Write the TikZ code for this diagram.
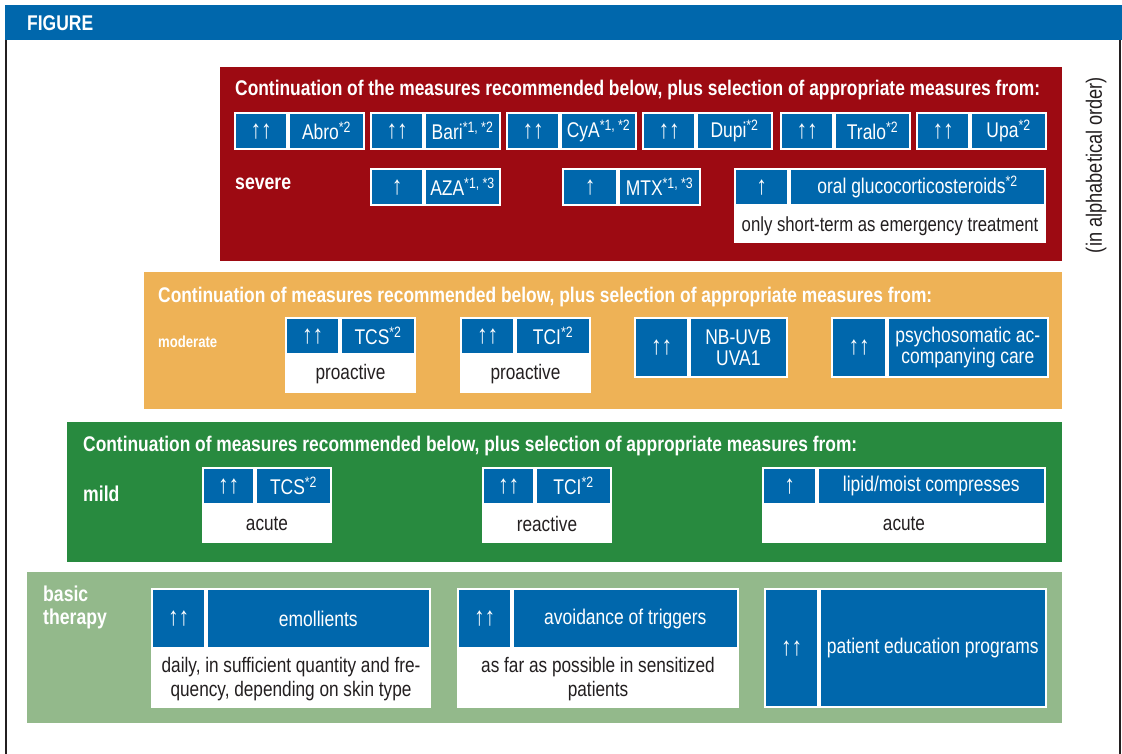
\documentclass[tikz,border=0pt]{standalone}
\usepackage{fontspec}
\setmainfont{Liberation Sans}[FakeStretch=0.82]
\definecolor{figblue}{HTML}{0067AC}
\definecolor{sevred}{HTML}{9D0A12}
\definecolor{modorange}{HTML}{EEB256}
\definecolor{mildgreen}{HTML}{288A3F}
\definecolor{basicgreen}{HTML}{93B98B}
\definecolor{inkgray}{HTML}{231F20}

\newcommand{\starnote}[1]{\raisebox{7pt}{\fontsize{15}{15}\selectfont#1}}
\newcommand{\grade}[1]{{\fontsize{26}{26}\selectfont#1}}
% grade cell + measure cell in a white frame
% #1 name, #2 left, #3 top, #4 right, #5 bottom, #6 grade width, #7 grade, #8 measure
\newcommand{\recpair}[8]{%
  \fill[white] (#2,#3) rectangle (#4,#5);
  \node[mcell, anchor=north west, minimum width={#6pt},
        minimum height={#5pt-#3pt-4pt}] (#1g) at (#2+2,#3+2) {\grade{#7}};
  \node[mcell, anchor=north east, minimum width={#4pt-#2pt-#6pt-8pt},
        minimum height={#5pt-#3pt-4pt}] (#1m) at (#4-2,#3+2) {#8};
}

\begin{document}
\begin{tikzpicture}[x=1pt,y=-1pt,
    mcell/.style={fill=figblue,text=white,inner sep=0pt,align=center,
      font=\fontsize{21.3}{21}\selectfont},
    heading/.style={anchor=west,text=white,inner sep=0pt,
      font=\bfseries\fontsize{21.2}{22}\selectfont},
    levelname/.style={anchor=west,text=white,inner sep=0pt,align=left,
      font=\bfseries\fontsize{21.5}{23}\selectfont},
    notetext/.style={text=inkgray,inner sep=0pt,align=center,
      font=\fontsize{21}{24}\selectfont}]
  \useasboundingbox (0,0) rectangle (1122,754);

  % header and frame
  \fill[figblue] (5,5) rectangle (1122,40);
  \node[anchor=west,text=white,inner sep=0pt,font=\bfseries\fontsize{21.3}{22}\selectfont] (fig) at (27,23) {FIGURE};
  \draw[inkgray,line width=2pt] (6,40) -- (6,754);
  \draw[inkgray,line width=2pt] (1120,40) -- (1120,754);
  \node[rotate=90,text=inkgray,inner sep=0pt,font=\fontsize{22.2}{23}\selectfont] (order) at (1096,165) {(in alphabetical order)};

  % severe
  \fill[sevred] (220,67) rectangle (1062,261);
  \node[heading] (sevhead) at (235,90) {Continuation of the measures recommended below, plus selection of appropriate measures from:};
  \node[levelname] (sevlabel) at (235,184) {severe};
  \recpair{abro}{234}{112}{365}{150}{50}{↑↑}{Abro\starnote{*2}}
  \recpair{bari}{370}{112}{501}{150}{50}{↑↑}{Bari\starnote{*1, *2}}
  \recpair{cya}{506}{112}{637}{150}{50}{↑↑}{CyA\starnote{*1, *2}}
  \recpair{dupi}{642}{112}{773}{150}{50}{↑↑}{Dupi\starnote{*2}}
  \recpair{tralo}{780}{112}{911}{150}{50}{↑↑}{Tralo\starnote{*2}}
  \recpair{upa}{916}{112}{1047}{150}{50}{↑↑}{Upa\starnote{*2}}
  \recpair{aza}{370}{168}{501}{206}{50}{↑}{AZA\starnote{*1, *3}}
  \recpair{mtx}{562}{168}{701}{206}{52}{↑}{MTX\starnote{*1, *3}}
  \fill[white] (734,168) rectangle (1046,243);
  \recpair{ocs}{734}{168}{1046}{206}{51}{↑}{oral glucocorticosteroids\starnote{*2}}
  \node[notetext,font=\fontsize{20.4}{24}\selectfont] (ocsnote) at (890,226) {only short-term as emergency treatment};

  % moderate
  \fill[modorange] (144,272) rectangle (1062,409);
  \node[heading] (modhead) at (158,297) {Continuation of measures recommended below, plus selection of appropriate measures from:};
  \node[levelname,font=\bfseries\fontsize{16}{18}\selectfont] (modlabel) at (158,342) {moderate};
  \fill[white] (285,317) rectangle (416,393);
  \recpair{tcsmod}{285}{317}{416}{355}{51}{↑↑}{TCS\starnote{*2}}
  \node[notetext] (tcsmodnote) at (350.5,374) {proactive};
  \fill[white] (460,317) rectangle (591,393);
  \recpair{tcimod}{460}{317}{591}{355}{51}{↑↑}{TCI\starnote{*2}}
  \node[notetext] (tcimodnote) at (525.5,374) {proactive};
  \recpair{uv}{634}{317}{788}{378}{51}{↑↑}{NB-UVB\\UVA1}
  \recpair{psy}{831}{317}{1049}{378}{52}{↑↑}{psychosomatic ac-\\companying care}

  % mild
  \fill[mildgreen] (67,422) rectangle (1062,562);
  \node[heading] (mildhead) at (83,446) {Continuation of measures recommended below, plus selection of appropriate measures from:};
  \node[levelname] (mildlabel) at (83,494) {mild};
  \fill[white] (202,467) rectangle (332,543);
  \recpair{tcsmild}{202}{467}{332}{505}{49}{↑↑}{TCS\starnote{*2}}
  \node[notetext] (tcsmildnote) at (267,524) {acute};
  \fill[white] (482,467) rectangle (612,543);
  \recpair{tcimild}{482}{467}{612}{505}{49}{↑↑}{TCI\starnote{*2}}
  \node[notetext] (tcimildnote) at (547,524) {reactive};
  \fill[white] (762,467) rectangle (1046,543);
  \recpair{lipid}{762}{467}{1046}{505}{51}{↑}{lipid/moist compresses}
  \node[notetext] (lipidnote) at (904,524) {acute};

  % basic therapy
  \fill[basicgreen] (27,572) rectangle (1062,723);
  \node[levelname] (baslabel) at (43,607.5) {basic\\therapy};
  \fill[white] (151,588) rectangle (431,708);
  \recpair{emol}{151}{588}{431}{649}{51}{↑↑}{emollients}
  \node[notetext] (emolnote) at (291,679) {daily, in sufficient quantity and fre-\\quency, depending on skin type};
  \fill[white] (457,588) rectangle (739,708);
  \recpair{avoid}{457}{588}{739}{649}{51}{↑↑}{avoidance of triggers}
  \node[notetext] (avoidnote) at (598,679) {as far as possible in sensitized\\patients};
  \recpair{edu}{764}{588}{1047}{708}{51}{↑↑}{patient education programs}
\end{tikzpicture}
\end{document}
